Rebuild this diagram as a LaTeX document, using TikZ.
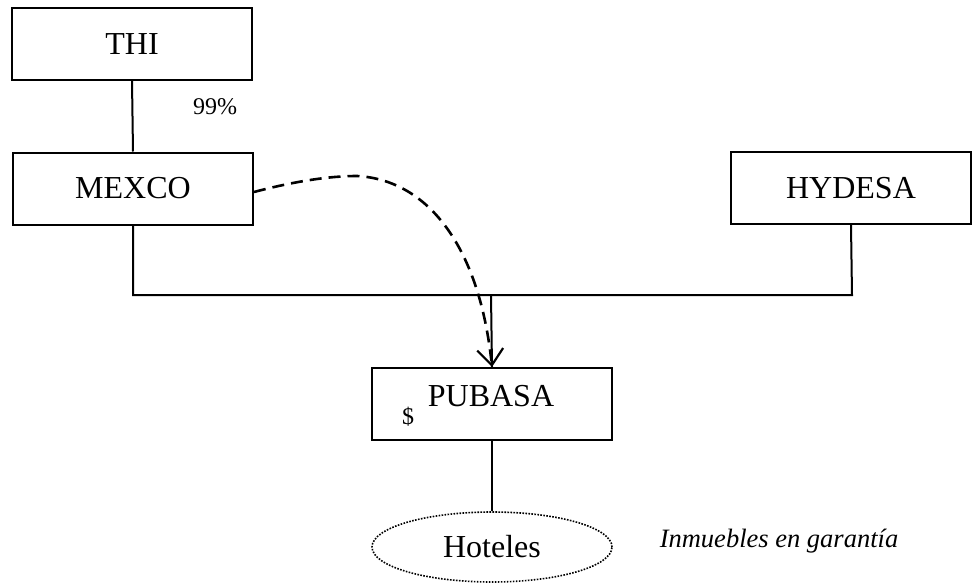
\documentclass[tikz,border=0pt]{standalone}
\usepackage{fontspec}
\setmainfont{Liberation Serif}
\usetikzlibrary{arrows.meta,shapes.geometric}
\begin{document}
\begin{tikzpicture}[x=1pt,y=-1pt,
  box/.style={draw,line width=2pt,minimum width=240pt,minimum height=72pt,inner sep=0pt,font=\fontsize{32}{38}\selectfont},
  lbl/.style={inner sep=0pt,font=\fontsize{24}{28}\selectfont},
  conn/.style={line width=2pt}]
\useasboundingbox (0,0) rectangle (972,586);
\node[box] (thi) at (132,44) {THI};
\node[box] (mexco) at (133,188.5) {MEXCO};
\node[box] (hydesa) at (851,188) {HYDESA};
\node[box] (pubasa) at (492,404) {};
\node[inner sep=0pt,font=\fontsize{32}{38}\selectfont] (pubtxt) at (491,396) {PUBASA};
\node[lbl] (dollar) at (408,417) {\$};
\node[draw,ellipse,line width=1.6pt,dash pattern=on 1.6pt off 1.4pt,minimum width=240pt,minimum height=70pt,inner sep=0pt,font=\fontsize{32}{38}\selectfont] (hoteles) at (492,547) {Hoteles};
\node[lbl] (pct) at (215,107) {99\%};
\node[lbl,font=\fontsize{26.5}{31}\selectfont\itshape] (inm) at (779,541) {Inmuebles en garantía};
\coordinate (jl) at (133,295);
\coordinate (jr) at (852,295);
\coordinate (jm) at (491,295);
\coordinate (peak) at (357,176);
\draw[conn] (thi.south) -- (mexco.north);
\draw[conn] (mexco.south) -- (jl) -- (jr) -- (hydesa.south);
\draw[conn] (jm) -- (pubasa.north);
\draw[conn] (pubasa.south) -- (hoteles.north);
\draw[line width=2.6pt,dash pattern=on 12pt off 7pt,-{Straight Barb[length=16pt,width=26pt,line width=2.2pt]}]
  (mexco.east |- 0,192) .. controls (288,183) and (325,176) .. (peak)
  .. controls (430,180) and (480,250) .. (pubasa.north);
\end{tikzpicture}
\end{document}
